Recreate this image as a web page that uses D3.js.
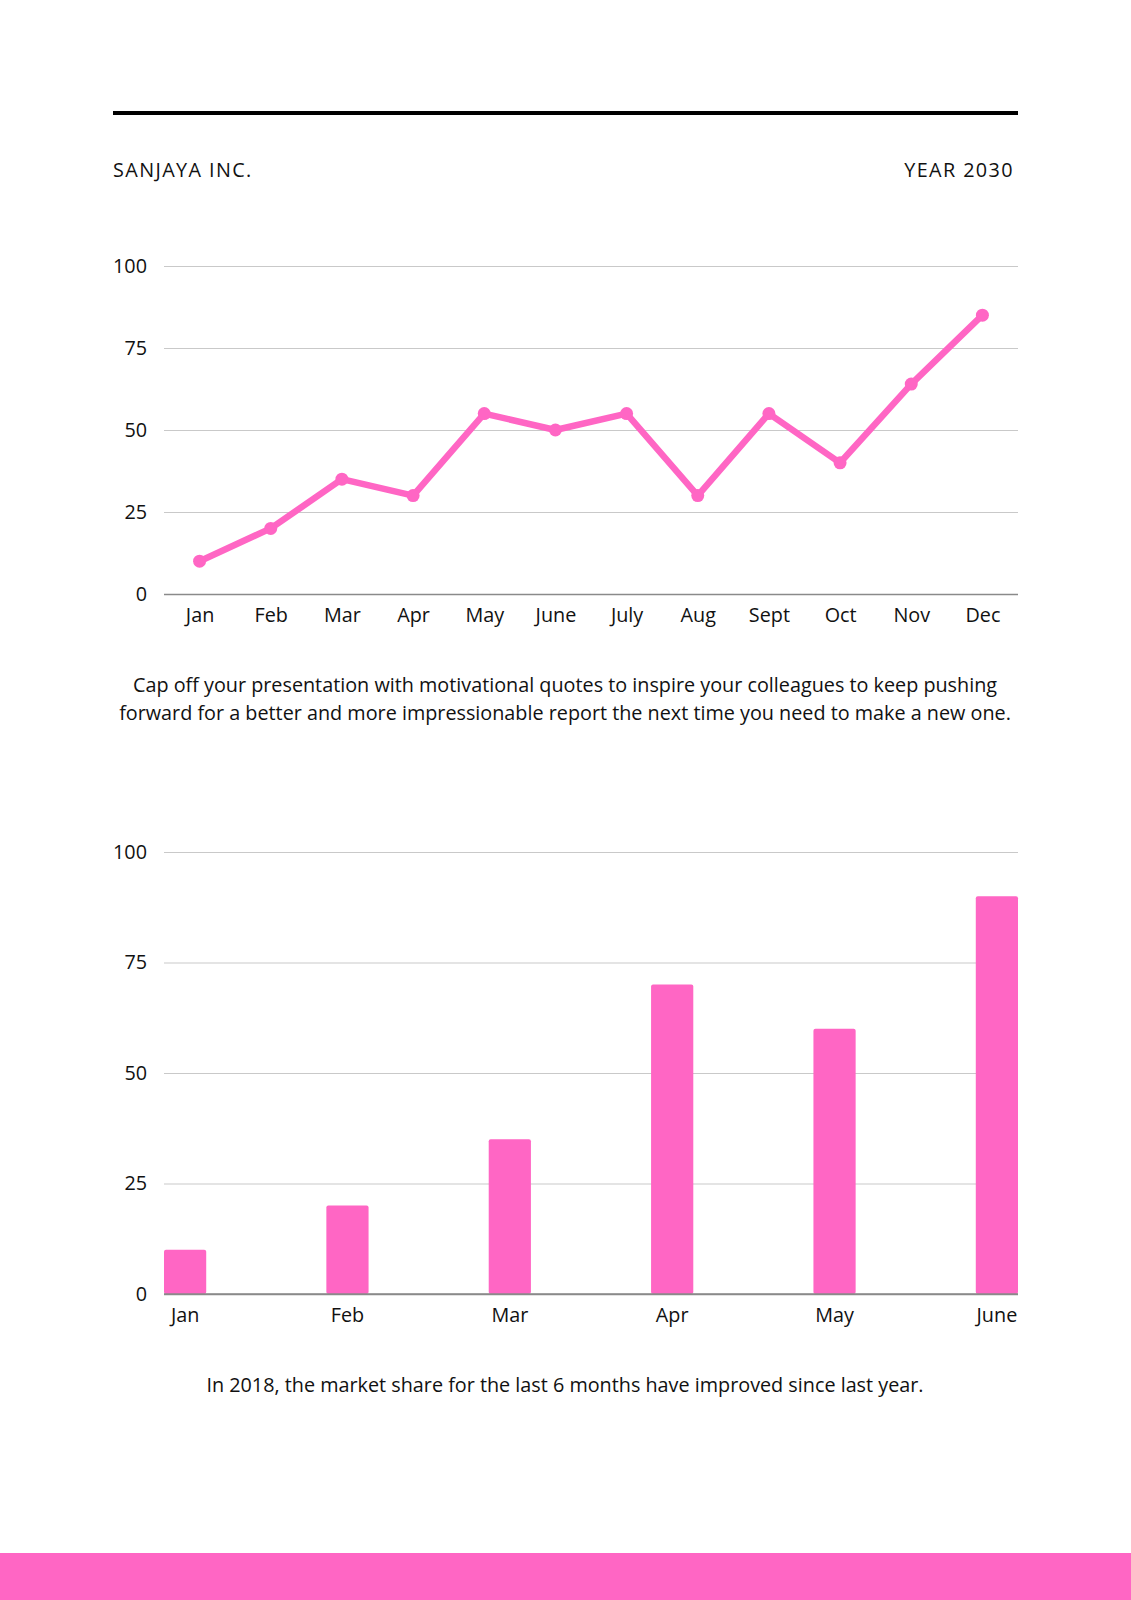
<!DOCTYPE html>
<html>
<head>
<meta charset="utf-8">
<script src="https://cdn.jsdelivr.net/npm/d3@7"></script>
<style>
  body { margin: 0; background: #fff; }
  text { font-family: "Open Sans", sans-serif; fill: #111; }
</style>
</head>
<body>
<div class="canvas"></div>
<script>
// data
const months = ['Jan', 'Feb', 'Mar', 'Apr', 'May', 'June', 'July', 'Aug', 'Sept', 'Oct', 'Nov', 'Dec'];
const lineValues = [10, 20, 35, 30, 55, 50, 55, 30, 55, 40, 64, 85];
const barMonths = ['Jan', 'Feb', 'Mar', 'Apr', 'May', 'June'];
const barValues = [10, 20, 35, 70, 60, 90];
const yTicks = [0, 25, 50, 75, 100];
const headerLeft = 'SANJAYA INC.';
const headerRight = 'YEAR 2030';
const quoteLines = [
    'Cap off your presentation with motivational quotes to inspire your colleagues to keep pushing',
    'forward for a better and more impressionable report the next time you need to make a new one.'
];
const caption = 'In 2018, the market share for the last 6 months have improved since last year.';

const pink = '#ff66c4';
const fontSize = 19.8;

const svg = d3.select('.canvas')
    .append('svg')
    .attr('width', 1131)
    .attr('height', 1600);

// header
svg.append('rect')
    .attr('x', 113).attr('y', 111)
    .attr('width', 905).attr('height', 4)
    .attr('fill', '#000');

svg.append('text')
    .attr('x', 113).attr('y', 177)
    .attr('font-size', fontSize)
    .attr('letter-spacing', 1.4)
    .text(headerLeft);

svg.append('text')
    .attr('x', 1014).attr('y', 177)
    .attr('font-size', fontSize)
    .attr('text-anchor', 'end')
    .attr('letter-spacing', 1.4)
    .text(headerRight);

// shared axis styling
function styleYAxis(g) {
    g.select('.domain').remove();
    g.selectAll('.tick line')
        .attr('stroke', d => d === 0 ? '#8a8a8a' : '#c9c9c9')
        .attr('stroke-width', d => d === 0 ? 1.6 : 1.2);
    g.selectAll('.tick text')
        .attr('font-size', fontSize)
        .attr('font-family', '"Open Sans", sans-serif')
        .attr('fill', '#111');
}

function styleXAxis(g) {
    g.select('.domain').remove();
    g.selectAll('.tick line').remove();
    g.selectAll('.tick text')
        .attr('font-size', fontSize)
        .attr('font-family', '"Open Sans", sans-serif')
        .attr('fill', '#111');
}

const left = 164;
const right = 1018;

// line chart
const y1 = d3.scaleLinear()
    .domain([0, 100])
    .range([594, 266]);

const x1 = d3.scalePoint()
    .domain(months)
    .range([left, right])
    .padding(0.5);

svg.append('g')
    .attr('transform', `translate(${left}, 0)`)
    .call(d3.axisLeft(y1).tickValues(yTicks).tickSize(-(right - left)).tickPadding(17))
    .call(styleYAxis);

svg.append('g')
    .attr('transform', `translate(0, 594)`)
    .call(d3.axisBottom(x1).tickSize(0).tickPadding(14))
    .call(styleXAxis);

const line = d3.line()
    .x((d, i) => x1(months[i]))
    .y(d => y1(d));

svg.append('path')
    .datum(lineValues)
    .attr('d', line)
    .attr('fill', 'none')
    .attr('stroke', pink)
    .attr('stroke-width', 6.5)
    .attr('stroke-linejoin', 'round');

svg.selectAll('circle.pt')
    .data(lineValues)
    .enter()
    .append('circle')
    .attr('class', 'pt')
    .attr('cx', (d, i) => x1(months[i]))
    .attr('cy', d => y1(d))
    .attr('r', 6.5)
    .attr('fill', pink);

// quote
svg.append('text')
    .attr('x', 565)
    .attr('font-size', fontSize)
    .attr('text-anchor', 'middle')
    .selectAll('tspan')
    .data(quoteLines)
    .enter()
    .append('tspan')
    .attr('x', 565)
    .attr('y', (d, i) => 692 + i * 28)
    .text(d => d);

// bar chart
const y2 = d3.scaleLinear()
    .domain([0, 100])
    .range([1294, 852]);

const x2 = d3.scaleBand()
    .domain(barMonths)
    .range([left, right])
    .paddingInner(0.74)
    .paddingOuter(0);

svg.append('g')
    .attr('transform', `translate(${left}, 0)`)
    .call(d3.axisLeft(y2).tickValues(yTicks).tickSize(-(right - left)).tickPadding(17))
    .call(styleYAxis);

svg.selectAll('rect.bar')
    .data(barValues)
    .enter()
    .append('rect')
    .attr('class', 'bar')
    .attr('x', (d, i) => x2(barMonths[i]))
    .attr('y', d => y2(d))
    .attr('width', x2.bandwidth())
    .attr('height', d => y2(0) - y2(d))
    .attr('rx', 2)
    .attr('fill', pink);

// baseline over the bars
svg.append('line')
    .attr('x1', left).attr('x2', right)
    .attr('y1', y2(0)).attr('y2', y2(0))
    .attr('stroke', '#8a8a8a')
    .attr('stroke-width', 1.6);

svg.append('g')
    .attr('transform', `translate(0, 1294)`)
    .call(d3.axisBottom(x2).tickSize(0).tickPadding(14))
    .call(styleXAxis);

// caption
svg.append('text')
    .attr('x', 565).attr('y', 1392)
    .attr('font-size', fontSize)
    .attr('text-anchor', 'middle')
    .text(caption);

// footer band
svg.append('rect')
    .attr('x', 0).attr('y', 1553)
    .attr('width', 1131).attr('height', 47)
    .attr('fill', pink);
</script>
</body>
</html>
